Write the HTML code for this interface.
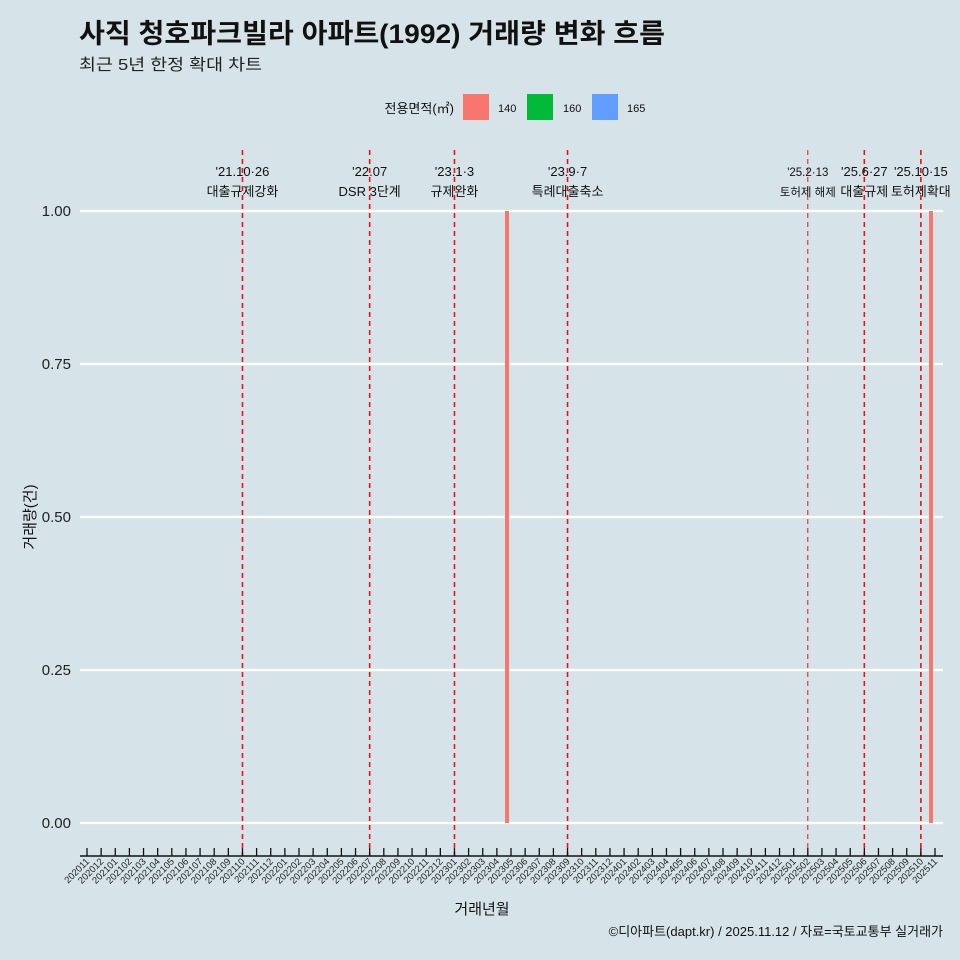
<!DOCTYPE html>
<html><head><meta charset="utf-8">
<style>
body{margin:0;background:#d6e4ea;}
svg{display:block;font-family:"Liberation Sans","Noto Sans CJK KR",sans-serif;}
</style></head>
<body>
<svg id="chart" width="960" height="960" viewBox="0 0 960 960">
<rect width="960" height="960" fill="#d6e4ea"/>
<text x="79" y="43" font-size="27" font-weight="bold" fill="#111" textLength="586" lengthAdjust="spacingAndGlyphs">사직 청호파크빌라 아파트(1992) 거래량 변화 흐름</text>
<text x="79" y="70" font-size="16" fill="#222" textLength="183" lengthAdjust="spacingAndGlyphs">최근 5년 한정 확대 차트</text>
<g>
<text x="454" y="113" font-size="13" text-anchor="end" fill="#111">전용면적(㎡)</text>
<rect x="463" y="94" width="26" height="26" fill="#f8766d"/>
<text x="498" y="112" font-size="11" fill="#111">140</text>
<rect x="527" y="94" width="26" height="26" fill="#00ba38"/>
<text x="563" y="112" font-size="11" fill="#111">160</text>
<rect x="592" y="94" width="26" height="26" fill="#619cff"/>
<text x="627" y="112" font-size="11" fill="#111">165</text>
</g>
<g id="plot"></g>
<text x="482" y="914" font-size="15" text-anchor="middle" fill="#111">거래년월</text>
<text x="35" y="517" font-size="15" text-anchor="middle" fill="#111" transform="rotate(-90 35 517)">거래량(건)</text>
<text x="943" y="936" font-size="13" text-anchor="end" fill="#111">©디아파트(dapt.kr) / 2025.11.12 / 자료=국토교통부 실거래가</text>
</svg>
<script>
const months = [];
for (let y = 2020; y <= 2025; y++) for (let m = 1; m <= 12; m++) {
  const k = y * 100 + m;
  if (k >= 202011 && k <= 202511) months.push(String(k));
}
const barMonths = ["202305", "202511"];
const barValues = [1, 1];
const barSeries = ["140", "140"];
const yTicks = [0, 0.25, 0.5, 0.75, 1];
const yTickLabels = ["0.00", "0.25", "0.50", "0.75", "1.00"];
const eventMonths = ["202110", "202207", "202301", "202309", "202502", "202506", "202510"];
const eventDates = ["'21.10·26", "'22.07", "'23.1·3", "'23.9·7", "'25.2·13", "'25.6·27", "'25.10·15"];
const eventLabels = ["대출규제강화", "DSR 3단계", "규제완화", "특례대출축소", "토허제 해제", "대출규제", "토허제확대"];

const NS = "http://www.w3.org/2000/svg";
const g = document.getElementById("plot");
const x0 = 87, x1 = 935;
const xs = m => x0 + months.indexOf(m) * (x1 - x0) / (months.length - 1);
const ys = v => 823 - v * (823 - 211);
const seriesColor = { "140": "#f8766d", "160": "#00ba38", "165": "#619cff" };
const seriesOff = { "140": -4, "160": 0, "165": 4 };
function mk(tag, attrs, parent) {
  const e = document.createElementNS(NS, tag);
  for (const k in attrs) e.setAttribute(k, attrs[k]);
  (parent || g).appendChild(e);
  return e;
}
yTicks.forEach((t, i) => {
  const l = mk("line", { x1: 80, x2: 943, y1: ys(t), y2: ys(t), stroke: "#fff", "stroke-width": 2.2 });
  
  
  const tx = mk("text", { x: 71, y: ys(t) + 5, "font-size": 15, "text-anchor": "end", fill: "#222" });
  tx.textContent = yTickLabels[i];
  
  
});
eventMonths.forEach((m, i) => {
  const x = xs(m);
  const thin = m === "202502";
  const l = mk("line", { x1: x, x2: x, y1: 150, y2: 856, stroke: "#ee1111", "stroke-width": thin ? 1 : 1.6, "stroke-dasharray": "5,4" });
  
  
  const fs = thin ? 11.5 : 13;
  const d = mk("text", { x: x, y: 176, "font-size": fs, "text-anchor": "middle", fill: "#111" });
  d.textContent = eventDates[i];
  
  
  const t = mk("text", { x: x, y: 196, "font-size": fs, "text-anchor": "middle", fill: "#111" });
  t.textContent = eventLabels[i];
  
  
});
barMonths.forEach((m, i) => {
  const x = xs(m) + seriesOff[barSeries[i]];
  const r = mk("rect", { x: x - 2, y: ys(barValues[i]), width: 4, height: ys(0) - ys(barValues[i]), fill: seriesColor[barSeries[i]] });
  
  
});
const ax = mk("line", { x1: 80, x2: 943, y1: 856, y2: 856, stroke: "#111", "stroke-width": 1.5 });


months.forEach(m => {
  const x = xs(m);
  const t = mk("line", { x1: x, x2: x, y1: 848, y2: 856, stroke: "#111", "stroke-width": 1.3 });
  
  
  const lb = mk("text", { x: x + 3, y: 862, "font-size": 9.5, "text-anchor": "end", fill: "#222", transform: `rotate(-45 ${x + 3} 862)` });
  lb.textContent = m;
  
  
});
</script>
</body></html>
